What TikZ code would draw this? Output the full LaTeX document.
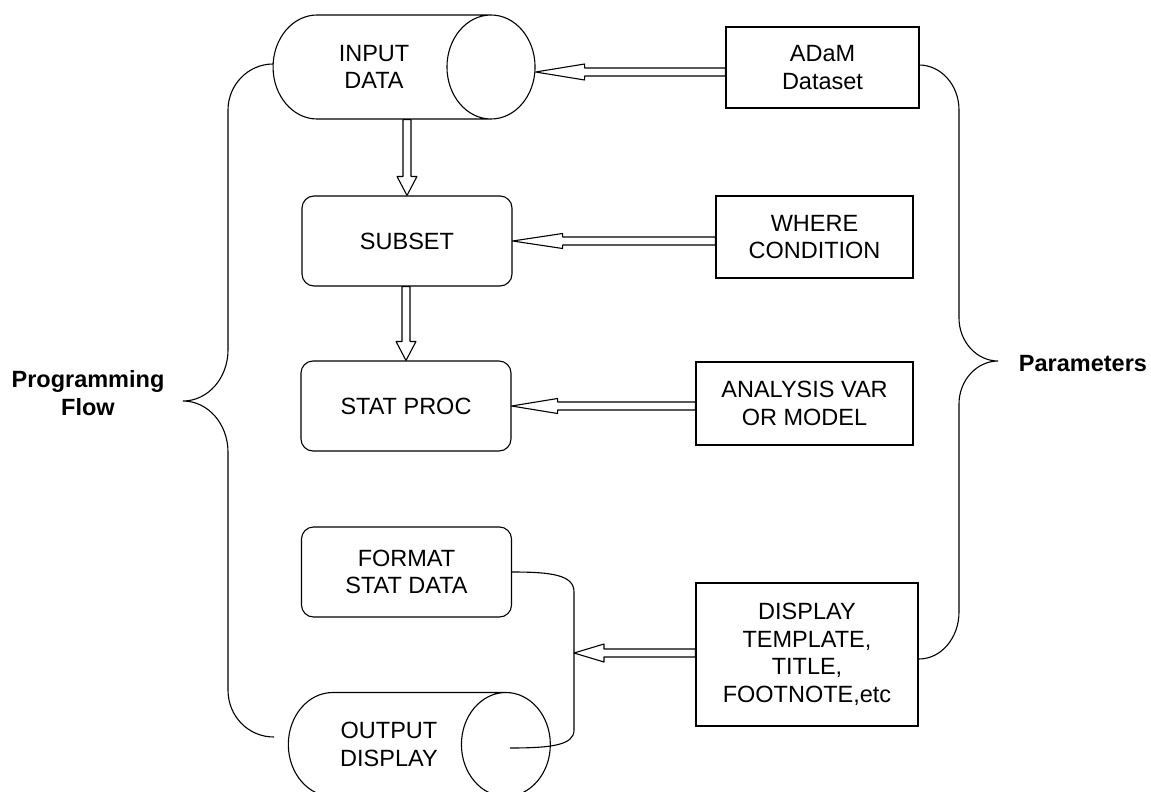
\documentclass[tikz,border=0pt]{standalone}
\usepackage{fontspec}
\setmainfont{Liberation Sans}
\usetikzlibrary{shapes.geometric,calc}
% hollow double-line arrow: head length, head half width, tail, tip
\newcommand\hollowarrow[4]{%
\coordinate (hb) at ($(#4)!#1!(#3)$);
\draw[line join=round] (#4) -- ($(hb)!#2!90:(#3)$) -- ($(hb)!4pt!90:(#3)$) -- ($(#3)!4pt!-90:(#4)$)
  -- ($(#3)!4pt!90:(#4)$) -- ($(hb)!4pt!-90:(#3)$) -- ($(hb)!#2!-90:(#3)$) -- cycle;}

\begin{document}
\begin{tikzpicture}[x=1pt,y=-1pt,line width=1.1pt,font=\fontsize{23.5}{27.5}\selectfont,
  procbox/.style={draw,rounded corners=12pt,minimum width=210pt,minimum height=90pt,align=center},
  parambox/.style={draw,align=center},
  datacyl/.style={draw,cylinder,aspect=1.75,minimum height=262pt,minimum width=104pt,align=center},
  sidelabel/.style={font=\fontsize{23.5}{27.5}\selectfont\bfseries,align=center}]
\useasboundingbox (0,0) rectangle (1151,792);
\clip (0,0) rectangle (1151,792);
% programming flow
\node[datacyl] (input) at (374,67) {INPUT\\DATA};
\node[procbox] (subset) at (407,241) {SUBSET};
\node[procbox] (statproc) at (406,406) {STAT PROC};
\node[procbox] (format) at (406.5,572) {FORMAT\\STAT DATA};
\node[datacyl] (output) at (389,744.5) {OUTPUT\\DISPLAY};
% parameters
\node[parambox,minimum width=193pt,minimum height=81pt] (adam) at (822.5,67.5) {ADaM\\Dataset};
\node[parambox,minimum width=197pt,minimum height=82pt] (where) at (814.5,237) {WHERE\\CONDITION};
\node[parambox,minimum width=217pt,minimum height=83pt] (analysis) at (804.5,403.5) {ANALYSIS VAR\\OR MODEL};
\node[parambox,minimum width=222pt,minimum height=143pt] (display) at (807,654.5) {DISPLAY\\TEMPLATE,\\TITLE,\\FOOTNOTE,etc};
\node[sidelabel] (progflow) at (88,393) {Programming\\Flow};
\node[sidelabel] (params) at (1083,364) {Parameters};
% arrows
\hollowarrow{49pt}{8pt}{[yshift=-5pt]input.east -| adam.west}{[yshift=-5pt]input.east}
\hollowarrow{19pt}{10pt}{subset.north |- input.south}{subset.north}
\hollowarrow{19pt}{10pt}{statproc.north |- subset.south}{statproc.north}
\hollowarrow{50pt}{7.5pt}{subset.east -| where.west}{subset.east}
\hollowarrow{46pt}{7.5pt}{statproc.east -| analysis.west}{statproc.east}
\coordinate (join) at (574,653);
\coordinate (outend) at (510,748);
\draw (format.east) .. controls (552,572) and (574,575) .. (574,592) -- (574,730) .. controls (574,745) and (552,748) .. (outend);
\hollowarrow{30pt}{9pt}{join -| display.west}{join}
% braces
\draw (273,64) .. controls (248,64) and (228,85) .. (228,110) -- (228,350) .. controls (228,378) and (208,401) .. (183,401)
  .. controls (208,401) and (228,424) .. (228,452) -- (228,690) .. controls (228,716) and (248,737) .. (274,737);
\draw (919,65) .. controls (941,65) and (959,85) .. (959,110) -- (959,318) .. controls (959,342) and (977,361) .. (998,361)
  .. controls (977,361) and (959,380) .. (959,404) -- (959,612) .. controls (959,638) and (941,659) .. (919,659);
\end{tikzpicture}
\end{document}
